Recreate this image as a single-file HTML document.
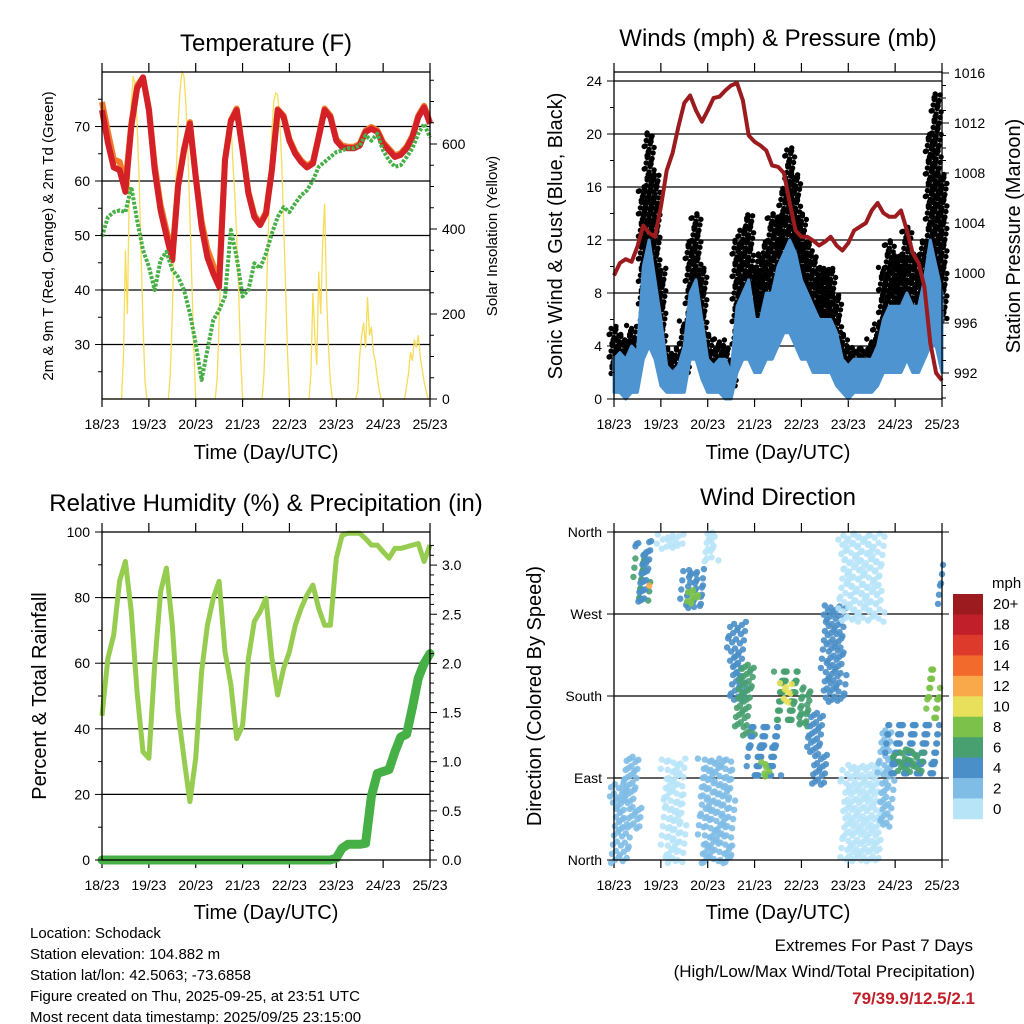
<!DOCTYPE html>
<html><head><meta charset="utf-8">
<style>
html,body{margin:0;padding:0;background:#fff;}
svg{display:block;font-family:"Liberation Sans",sans-serif;}
</style></head>
<body>
<svg id="chart" width="1024" height="1024" viewBox="0 0 1024 1024" xmlns="http://www.w3.org/2000/svg">
<rect x="0" y="0" width="1024" height="1024" fill="#fff"/>
<g id="g1"></g>
<g id="g2"></g>
<g id="g3"></g>
<g id="g4"></g>
<g id="info" font-size="15" fill="#000">
<text x="30" y="938">Location: Schodack</text>
<text x="30" y="959">Station elevation: 104.882 m</text>
<text x="30" y="980">Station lat/lon: 42.5063; -73.6858</text>
<text x="30" y="1001">Figure created on Thu, 2025-09-25, at 23:51 UTC</text>
<text x="30" y="1022">Most recent data timestamp: 2025/09/25 23:15:00</text>
</g>
<g id="extremes" text-anchor="end">
<text x="973" y="951" font-size="17">Extremes For Past 7 Days</text>
<text x="975" y="977" font-size="17">(High/Low/Max Wind/Total Precipitation)</text>
<text x="975" y="1004" font-size="17" font-weight="bold" fill="#c1202a">79/39.9/12.5/2.1</text>
</g>
</svg>
<script>
// ---------- data (3-hour samples, hours 0..168) ----------
const hours3 = [0,3,6,9,12,15,18,21,24,27,30,33,36,39,42,45,48,51,54,57,60,63,66,69,72,75,78,81,84,87,90,93,96,99,102,105,108,111,114,117,120,123,126,129,132,135,138,141,144,147,150,153,156,159,162,165,168];
const dayLabels = ["18/23","19/23","20/23","21/23","22/23","23/23","24/23","25/23"];
const temp2m = [73,67,62.5,62,58,70,77,79,73,62,54.6,50,45.5,59,65.6,70.5,60.7,51.6,46,43,40.6,63.8,71,73,65.6,57.7,53.4,51.9,54,62,73,71.7,67.4,65,63.5,62.5,63.2,68,73,71.7,67.4,66.2,66,66,66.5,69,69.6,69,66.8,65.6,64.4,64.8,66,68,71.7,73.5,70.5];
const temp9m = [74.5,69,64,63.5,59.5,70.5,77.5,79,73.3,63,55.6,51,46.5,59.5,65.9,70.8,61,52.6,47.5,44.5,41.8,64,71.2,73.3,65.9,58,53.8,52.2,54.3,62.3,73.2,72,67.7,65.3,63.8,62.8,63.5,68.3,73.3,72,67.7,66.5,66.3,66.3,66.8,69.3,69.9,69.3,67.1,65.9,64.7,65.1,66.3,68.3,72,73.8,70.8];
const dewpt = [49.8,53.4,54.3,54.6,54.3,58.9,52.8,47.3,44.3,40,45.5,47,43.7,42.4,40,35.7,30.2,23.5,29,34.5,36.3,38.8,51,46,38.8,40,44.9,44,46.7,50.4,53.4,55.2,54.3,55.9,57.4,58.3,60.1,62.6,63.5,64.4,65.3,65.6,66,66,66.5,68.4,67.4,68.7,65.6,63.8,62.6,62.9,64.4,66,68.7,70.5,68];
const solarHours = [0,10,11,12,13,14,15,16,17,18,19,20,21,22,23,24, 34,35,36,37,38,39,40,41,42,43,44,45,46,47,48, 58,59,60,61,62,63,64,65,66,67,68,69,70,71,72, 82,83,84,85,86,87,88,89,90,91,92,93,94,95,96, 106,107,108,109,110,111,112,113,114,115,116,117,118, 130,131,132,133,134,135,136,137,138,139,140,141,142,143, 155,156,157,158,159,160,161,162,163,164,165,166,167,168];
const solarVals = [0,0,100,350,200,500,700,760,740,650,520,350,180,40,0,0, 0,60,200,380,530,650,730,770,760,690,580,430,280,120,0, 0,50,180,330,450,560,640,600,660,560,480,380,250,100,0, 0,60,200,370,520,630,700,720,715,660,560,420,270,110,0, 0,60,250,150,80,300,200,360,460,250,120,40,0, 0,20,100,150,180,120,240,150,170,110,90,50,20,0, 0,30,60,110,90,140,120,150,100,70,40,20,0,0];
const windMin = [0.5,0.5,0,0.5,0.5,3,4,3,1,0.5,0.5,0.5,0.5,3,3,1.5,0.5,0.5,0.5,0,0,2,3,3,2,2,3,3,4,5,5,4,3,3,2,2,2,2,1,0.5,0,0.5,0.5,0.5,0.5,1,2,2,2,2,3,2,2,3,4,4,2];
const windMax = [3,3.5,3,4,3.5,10,12,9,6,2.5,2,2.5,4,8,9,6,3,2.5,3,3,2,7,8,9,6,6,8,8,10,11,12,11,9,8,7,6,6,6,5,3,2.5,3,3,3,3,4,6,7,7,7,8,7,7,9,12,10,8];
const gustMin = [2,2,2,2,2,5,6,5,3,2,1.5,2,2,4,5,3,2,2,2,1.5,1,4,5,5,4,4,5,5,6,8,8,7,6,5,4,4,4,4,3,2,1.5,2,2,2,2,2,4,5,5,5,5,5,4,6,8,8,6];
const gustMax = [5.5,5,4.5,5.5,4.5,16,20,17,10,4,3.5,4,6,12,14,10,5,4,4.5,4,3,12,13,14,10,11,12,14,14,16,19,17,14,12,11,10,10,10,8,5,4,4,4,4,4.5,6,10,12,11,11,13,11,11,12,20,23,17];
const pressure = [999.8,1000.8,1001.1,1000.9,1002.1,1003.8,1003.2,1002.9,1005.3,1008.2,1009.6,1011.7,1013.6,1014.2,1013,1012.1,1013,1014,1014.1,1014.6,1015,1015.2,1013.8,1011,1010.5,1010.2,1009.8,1008.6,1008.5,1008,1005.6,1003.4,1002.9,1002.9,1002.6,1002.2,1002.5,1002.9,1002.2,1001.8,1002.4,1003.4,1003.7,1004,1005,1005.6,1004.8,1004.5,1004.5,1005,1003.4,1001.6,1000.8,998.9,994.4,992,991.4];
const rh = [44,61.5,68.6,85,91,75.7,51,33,31,59.5,81.8,89,71.6,45,31,17.8,31,57.4,71.6,79.8,85,63.5,53.4,37,41,61.5,72.7,75.7,79.8,61.5,50.3,58.4,63.5,71.6,76.7,80.8,83.8,76.7,71.6,71.6,92,99,99.6,99.6,99.6,98,96,96,94,92,95,95,95.5,96,96.5,91,96];
const precip = [0,0,0,0,0,0,0,0,0,0,0,0,0,0,0,0,0,0,0,0,0,0,0,0,0,0,0,0,0,0,0,0,0,0,0,0,0,0,0,0,0.02,0.12,0.16,0.16,0.16,0.17,0.65,0.88,0.9,0.92,1.1,1.25,1.28,1.55,1.85,2.0,2.1];
// wind direction clusters: start hour, end hour, dir low, dir high (deg), speed (mph)
const dirT0 = [0,6,12,13,16,24,26,36,38,45,47,60,64,70,76,84,87,94,101,108,117,118,137,141,145,162,167];
const dirT1 = [6,12,17,18,17,35,36,46,43,60,52,67,70,84,80,94,91,101,108,118,137,137,142,166,158,166,168];
const dirLo = [0,38,287,287,300,345,0,280,285,0,330,177,140,93,95,155,175,150,86,177,265,2,40,93,100,155,280];
const dirHi = [82,115,335,353,305,360,112,320,300,112,357,262,214,148,105,210,195,190,163,276,357,104,140,148,125,210,330];
const dirSpd = [2,3,7,5,12,1,1,4,8,2,1,5,7,5,8,7,10,6,4,4,1,1,3,5,7,9,4];
const speedLabels = ["20+","18","16","14","12","10","8","6","4","2","0"];
const speedColors = ["#9b1b1e","#c1202a","#dd3a2c","#f26a2c","#f9a94a","#e8e05a","#7cc24a","#48a070","#4a8fc8","#7fbde6","#b8e4f8"];

const NS="http://www.w3.org/2000/svg";
function mk(parent, tag, attrs, txt){const e=document.createElementNS(NS,tag);for(const k in attrs)e.setAttribute(k,attrs[k]);if(txt!==undefined)e.textContent=txt;parent.appendChild(e);return e;}
const W=328;
function xOf(x0,t){return x0+t/168*W;}
function poly(xs,ys){return xs.map((x,i)=>x.toFixed(1)+","+ys[i].toFixed(1)).join(" ");}

function frame(g,x0,top,bot,gridVals,yfn){
  gridVals.forEach(v=>{const y=yfn(v);const l=mk(g,'line',{x1:x0,x2:x0+W,y1:y,y2:y,stroke:'#000','stroke-width':1.2});
    
    });
  dayLabels.forEach((lab,i)=>{const x=xOf(x0,i*24);
    const t1=mk(g,'line',{x1:x,x2:x,y1:top-9,y2:top,stroke:'#000','stroke-width':1.2});
    
    
    const t2=mk(g,'line',{x1:x,x2:x,y1:bot,y2:bot+8,stroke:'#000','stroke-width':1.2});
    
    
    const tx=mk(g,'text',{x:x,y:bot+30,'text-anchor':'middle','font-size':14},lab);
    
    });
}
function drawBorder(g,x0,top,bot){const r=mk(g,'rect',{x:x0,y:top,width:W,height:bot-top,fill:'none',stroke:'#000','stroke-width':1.3});
  
  }
function txt(g,x,y,s,size,anchor,rot,name){const a={x:x,y:y,'font-size':size,'text-anchor':anchor||'middle'};if(rot)a.transform='rotate(-90 '+x+' '+y+')';const e=mk(g,'text',a,s);
  
  return e;}
function yTicks(g,xEdge,side,vals,labels,yfn,len){vals.forEach((v,i)=>{const y=yfn(v);
  const l=mk(g,'line',{x1:xEdge,x2:xEdge+side*len,y1:y,y2:y,stroke:'#000','stroke-width':1});
  
  
  if(labels&&labels[i]!==null){txt(g,xEdge+side*(len+5),y+5,labels[i],14,side<0?'end':'start',false,'y-tick-label');}});}

// ---------- Panel 1: temperature ----------
(function(){
const g=document.getElementById('g1');const x0=102,top=72,bot=399;
const yT=v=>399-(v-20)*5.45, yS=v=>399-v*0.425;
frame(g,x0,top,bot,[30,40,50,60,70],yT);
const sx=solarHours.map(h=>xOf(x0,h)), sy=solarVals.map(yS);
const sl=mk(g,'polyline',{points:poly(sx,sy),fill:'none',stroke:'#f7dc5a','stroke-width':1.3});


const hx=hours3.map(h=>xOf(x0,h));
const o=mk(g,'polyline',{points:poly(hx,temp9m.map(yT)),fill:'none',stroke:'#f07a2a','stroke-width':6,'stroke-linejoin':'round'});


const r=mk(g,'polyline',{points:poly(hx,temp2m.map(yT)),fill:'none',stroke:'#d42027','stroke-width':6,'stroke-linejoin':'round'});


const d=mk(g,'polyline',{points:poly(hx,dewpt.map(yT)),fill:'none',stroke:'#46b046','stroke-width':4,'stroke-dasharray':'3 1.5','stroke-linejoin':'round'});


drawBorder(g,x0,top,bot);
yTicks(g,x0,-1,[30,40,50,60,70],["30","40","50","60","70"],yT,7);
yTicks(g,x0,-1,[25,35,45,55,65,75],null,yT,4);
yTicks(g,x0+W,1,[0,200,400,600],["0","200","400","600"],yS,7);
yTicks(g,x0+W,1,[50,100,150,250,300,350,450,500,550,650,700,750],null,yS,4);
txt(g,266,51,'Temperature (F)',24,'middle',false,'temperature-title');
txt(g,266,459,'Time (Day/UTC)',20,'middle',false,'x-axis-title');
txt(g,53,236,'2m & 9m T (Red, Orange) & 2m Td (Green)',15,'middle',true,'y-axis-title-left');
txt(g,497,236,'Solar Insolation (Yellow)',15,'middle',true,'y-axis-title-right');
})();

// ---------- Panel 2: winds & pressure ----------
(function(){
const g=document.getElementById('g2');const x0=614,top=72,bot=399;
const yW=v=>399-v*13.25, yP=v=>373-(v-992)*12.5;
frame(g,x0,top,bot,[4,8,12,16,20,24],yW);
const bw=W/56;
let n=0;
hours3.forEach((h,i)=>{const xc=xOf(x0,h);const y1=yW(gustMax[i]),y2=yW(gustMin[i]);
  for(let y=y2;y>=y1;y-=4.5){for(let k=-1;k<=1;k++){n++;
    const c=mk(g,'circle',{cx:(xc+k*bw/2+((n*7)%5-2)).toFixed(1),cy:(y+((n*3)%5-2)).toFixed(1),r:2.7,fill:'#000'});
    
    }}});
const hx=hours3.map(h=>xOf(x0,h));
const topPts=hx.map((x,i)=>x.toFixed(1)+","+yW(windMax[i]).toFixed(1));
const botPts=hx.map((x,i)=>x.toFixed(1)+","+yW(windMin[i]).toFixed(1)).reverse();
const band=mk(g,'polygon',{points:topPts.concat(botPts).join(" "),fill:'#4d94d0',stroke:'#4d94d0','stroke-width':3,'stroke-linejoin':'round'});


const p=mk(g,'polyline',{points:poly(hx,pressure.map(yP)),fill:'none',stroke:'#9b1b1e','stroke-width':4,'stroke-linejoin':'round'});


drawBorder(g,x0,top,bot);
yTicks(g,x0,-1,[0,4,8,12,16,20,24],["0","4","8","12","16","20","24"],yW,7);
yTicks(g,x0,-1,[2,6,10,14,18,22],null,yW,4);
yTicks(g,x0+W,1,[992,996,1000,1004,1008,1012,1016],["992","996","1000","1004","1008","1012","1016"],yP,7);
yTicks(g,x0+W,1,[990,991,993,994,995,997,998,999,1001,1002,1003,1005,1006,1007,1009,1010,1011,1013,1014,1015],null,yP,4);
txt(g,778,46,'Winds (mph) & Pressure (mb)',24,'middle',false,'winds-title');
txt(g,778,459,'Time (Day/UTC)',20,'middle',false,'x-axis-title');
txt(g,562,236,'Sonic Wind & Gust (Blue, Black)',20,'middle',true,'y-axis-title-left');
txt(g,1020,236,'Station Pressure (Maroon)',20,'middle',true,'y-axis-title-right');
})();

// ---------- Panel 3: RH & precipitation ----------
(function(){
const g=document.getElementById('g3');const x0=102,top=532,bot=860;
const yR=v=>860-v*3.28, yI=v=>860-v*98.3;
frame(g,x0,top,bot,[20,40,60,80],yR);
const hx=hours3.map(h=>xOf(x0,h));
const l=mk(g,'polyline',{points:poly(hx,rh.map(yR)),fill:'none',stroke:'#96cc50','stroke-width':5,'stroke-linejoin':'round'});


const pl=mk(g,'polyline',{points:poly(hx,precip.map(yI)),fill:'none',stroke:'#46b046','stroke-width':9,'stroke-linejoin':'round','stroke-linecap':'round'});


drawBorder(g,x0,top,bot);
yTicks(g,x0,-1,[0,20,40,60,80,100],["0","20","40","60","80","100"],yR,7);
yTicks(g,x0,-1,[10,30,50,70,90],null,yR,4);
yTicks(g,x0+W,1,[0,0.5,1,1.5,2,2.5,3],["0.0","0.5","1.0","1.5","2.0","2.5","3.0"],yI,7);
yTicks(g,x0+W,1,[0.1,0.2,0.3,0.4,0.6,0.7,0.8,0.9,1.1,1.2,1.3,1.4,1.6,1.7,1.8,1.9,2.1,2.2,2.3,2.4,2.6,2.7,2.8,2.9,3.1,3.2],null,yI,4);
txt(g,266,511,'Relative Humidity (%) & Precipitation (in)',24,'middle',false,'humidity-title');
txt(g,266,919,'Time (Day/UTC)',20,'middle',false,'x-axis-title');
txt(g,46,696,'Percent & Total Rainfall',20,'middle',true,'y-axis-title-left');
})();

// ---------- Panel 4: wind direction ----------
(function(){
const g=document.getElementById('g4');const x0=614,top=532,bot=860;
const yD=v=>860-v/360*328;
frame(g,x0,top,bot,[90,180,270],yD);
function colorFor(s){let idx=10-Math.min(10,Math.floor(s/2));return speedColors[idx];}
let n=0;
dirT0.forEach((t0,i)=>{
  for(let t=t0;t<=dirT1[i];t+=1.5){for(let d=dirLo[i];d<=dirHi[i];d+=9){n++;
    const c=mk(g,'circle',{cx:(xOf(x0,t)+((n*37)%9-4)).toFixed(1),cy:(yD(d)+((n*13)%7-3)).toFixed(1),r:3.2,fill:colorFor(dirSpd[i]),'fill-opacity':0.9});
    
    }}});
drawBorder(g,x0,top,bot);
yTicks(g,x0,-1,[0,90,180,270,360],["North","East","South","West","North"],yD,7);
yTicks(g,x0+W,1,[0,90,180,270,360],null,yD,7);
txt(g,778,505,'Wind Direction',24,'middle',false,'wind-direction-title');
txt(g,778,919,'Time (Day/UTC)',20,'middle',false,'x-axis-title');
txt(g,541,696,'Direction (Colored By Speed)',20,'middle',true,'y-axis-title-left');
const lg=mk(g,'g',{});


txt(lg,992,588,'mph',15,'start',false,'legend-title');
const bh=225/11;
speedLabels.forEach((lab,i)=>{const y=594+i*bh;
  const r=mk(lg,'rect',{x:953,y:y.toFixed(1),width:30,height:(bh+0.3).toFixed(1),fill:speedColors[i]});
  
  
  txt(lg,993,y+bh/2+5,lab,15,'start',false,'legend-label');});
})();
</script>
</body></html>
